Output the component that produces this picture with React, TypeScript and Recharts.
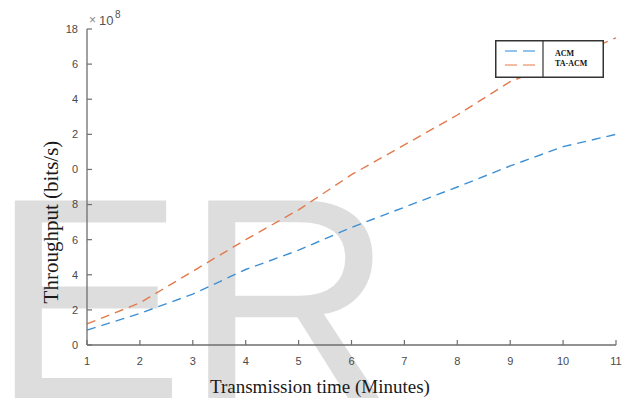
import React from "react";
import { LineChart, Line, XAxis, YAxis, Legend, Label } from "recharts";

const minutes = [1, 2, 3, 4, 5, 6, 7, 8, 9, 10, 11];
const acm = [0.85, 1.8, 2.9, 4.3, 5.4, 6.7, 7.85, 9.0, 10.2, 11.3, 12.0];
const taAcm = [1.2, 2.4, 4.2, 6.0, 7.7, 9.7, 11.4, 13.1, 15.0, 16.2, 17.5];
const yTicks = [0, 2, 4, 6, 8, 10, 12, 14, 16, 18];
const yTickLabels = ["0", "2", "4", "6", "8", "0", "2", "4", "6", "18"];
const seriesNames = ["ACM", "TA-ACM"];

const data = minutes.map((t, i) => ({ t, acm: acm[i], ta: taAcm[i] }));

const BLUE = "#3d8fd4";
const ORANGE = "#e27a4c";
const AXIS = "#6e6e6e";
const TICK = "#4a4a4a";

const renderLegend = () => (
  <svg width={109} height={38} style={{ display: "block" }}>
    <rect x={0.75} y={0.75} width={107.5} height={36.5} fill="#fff" stroke="#333" strokeWidth={1.5} />
    <line x1={48} y1={1} x2={48} y2={37} stroke="#333" strokeWidth={1.2} />
    <line x1={10} y1={11} x2={42} y2={11} stroke="#6cb1e8" strokeWidth={1.5} strokeDasharray="12 6" />
    <line x1={10} y1={25} x2={42} y2={25} stroke="#f0a784" strokeWidth={1.5} strokeDasharray="12 6" />
    <text x={60} y={16} fontFamily="Liberation Serif" fontWeight="bold" fontSize={8} fill="#111">
      {seriesNames[0]}
    </text>
    <text x={60} y={26} fontFamily="Liberation Serif" fontWeight="bold" fontSize={8} fill="#111">
      {seriesNames[1]}
    </text>
  </svg>
);

export default function App() {
  return (
    <div style={{ position: "absolute", left: 0, top: 0, width: 625, height: 398, background: "#fff" }}>
      <svg width={625} height={398} style={{ position: "absolute", left: 0, top: 0 }}>
        <text x={-9} y={400} fontFamily="Liberation Sans" fontSize={290} fill="#dddddd">
          ER
        </text>
      </svg>
      <div style={{ position: "absolute", left: 0, top: 0 }}>
        <LineChart width={625} height={398} data={data} margin={{ top: 29, right: 9, bottom: 23, left: 0 }}>
          <XAxis
            dataKey="t"
            type="number"
            domain={[1, 11]}
            ticks={minutes}
            height={30}
            stroke={AXIS}
            axisLine={{ stroke: AXIS, strokeWidth: 1.3 }}
            tickLine={{ stroke: AXIS, strokeWidth: 1.2 }}
            tickSize={-5}
            tickMargin={17}
            tick={{ fill: TICK, fontSize: 11, fontFamily: "Liberation Sans" }}
            interval={0}
          >
            <Label
              content={() => (
                <text x={320} y={393} textAnchor="middle" fontFamily="Liberation Serif" fontSize={19} fill="#1a1a1a">
                  Transmission time (Minutes)
                </text>
              )}
            />
          </XAxis>
          <YAxis
            type="number"
            domain={[0, 18]}
            ticks={yTicks}
            width={87}
            stroke={AXIS}
            axisLine={{ stroke: AXIS, strokeWidth: 1.3 }}
            tickLine={{ stroke: AXIS, strokeWidth: 1.2 }}
            tickSize={-5}
            tickMargin={14}
            tick={{ fill: TICK, fontSize: 11, fontFamily: "Liberation Sans" }}
            tickFormatter={(v: number) => yTickLabels[yTicks.indexOf(v)]}
            interval={0}
          >
            <Label
              content={() => (
                <g>
                  <text
                    x={58}
                    y={222}
                    transform="rotate(-90 58 222)"
                    textAnchor="middle"
                    fontFamily="Liberation Serif"
                    fontSize={21}
                    fill="#1a1a1a"
                  >
                    Throughput (bits/s)
                  </text>
                  <text x={89} y={24} fontFamily="Liberation Sans" fontSize={12} fill="#888">
                    ×
                  </text>
                  <text x={99} y={25} fontFamily="Liberation Sans" fontSize={13} fill="#555">
                    10
                  </text>
                  <text x={115} y={18} fontFamily="Liberation Sans" fontSize={10} fill="#555">
                    8
                  </text>
                </g>
              )}
            />
          </YAxis>
          <Legend
            layout="horizontal"
            verticalAlign="middle"
            content={renderLegend}
            wrapperStyle={{ position: "absolute", left: 495, top: 40, width: 109, height: 38 }}
          />
          <Line
            type="linear"
            dataKey="acm"
            name={seriesNames[0]}
            stroke={BLUE}
            strokeWidth={1.4}
            strokeDasharray="9 6"
            dot={false}
            isAnimationActive={false}
          />
          <Line
            type="linear"
            dataKey="ta"
            name={seriesNames[1]}
            stroke={ORANGE}
            strokeWidth={1.4}
            strokeDasharray="9 6"
            dot={false}
            isAnimationActive={false}
          />
        </LineChart>
      </div>
    </div>
  );
}
